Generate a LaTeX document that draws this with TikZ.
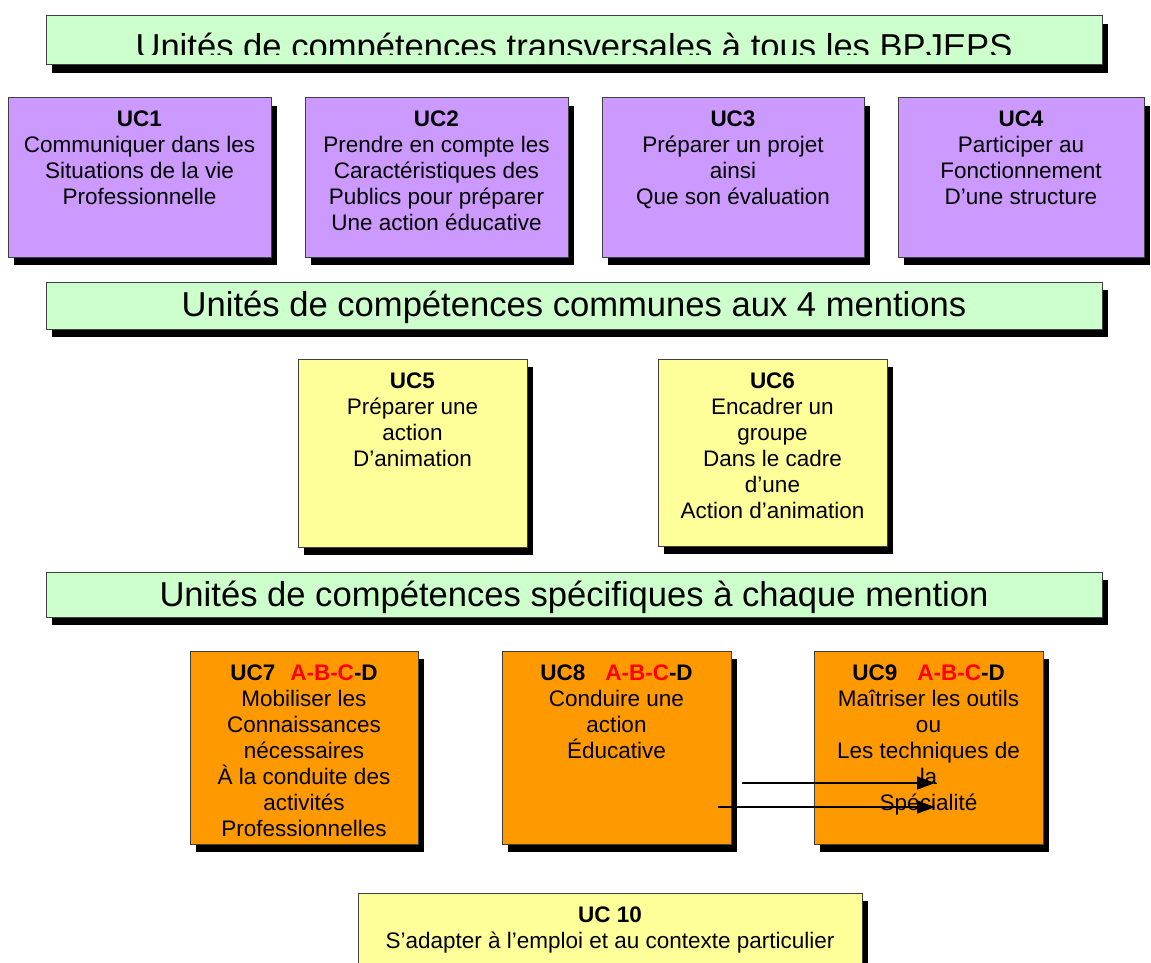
\documentclass[tikz,border=0pt]{standalone}
\usepackage{fontspec}
\setmainfont{Liberation Sans}
\usetikzlibrary{shadows,arrows.meta}

\definecolor{bannergreen}{HTML}{CCFFCC}
\definecolor{ucpurple}{HTML}{CC99FF}
\definecolor{ucyellow}{HTML}{FFFF99}
\definecolor{ucorange}{HTML}{FF9900}
\definecolor{abcred}{HTML}{FF0000}

\newcommand\boxfont{\fontsize{22.5}{26}\selectfont}
\newcommand\bannerfont{\fontsize{34.6}{40}\selectfont}
\newcommand\abcd{\textcolor{abcred}{A-B-C}-D}

\tikzset{
  ucbox/.style={draw=black!75, line width=1pt, inner sep=0pt, outer sep=0pt,
    anchor=north west,
    drop shadow={shadow xshift=6pt, shadow yshift=-8pt, fill=black, opacity=1}},
  conn/.style={line width=1.5pt, -{Triangle[length=18pt,width=13pt]}},
  bannertext/.style={inner sep=0pt, font=\bannerfont},
}

% name, x, y, width, height, colour, text
\newcommand\ucrect[7]{%
  \node[ucbox, fill=#6, minimum width=#4pt, minimum height=#5pt] (#1) at (#2,#3)
    {\parbox[t][#5pt][t]{#4pt}{\centering\boxfont\vspace*{10.8pt}\strut #7}};}

\begin{document}
\begin{tikzpicture}[x=1pt,y=-1pt]
\useasboundingbox (0,0) rectangle (1151,963);
\clip (0,0) rectangle (1151,963);

% top banner (text clipped)
\node[ucbox, fill=bannergreen, minimum width=1056pt, minimum height=49pt] (b1) at (46,16) {};
\begin{scope}
  \clip (46,16) rectangle (1102,55);
  \node[bannertext, anchor=base] (b1t) at (574,59) {Unités de compétences transversales à tous les BPJEPS};
\end{scope}

\ucrect{uc1}{8}{98}{263}{159}{ucpurple}{\textbf{UC1}\\Communiquer dans les\\Situations de la vie\\Professionnelle}
\ucrect{uc2}{305}{98}{263}{159}{ucpurple}{\textbf{UC2}\\Prendre en compte les\\Caractéristiques des\\Publics pour préparer\\Une action éducative}
\ucrect{uc3}{602}{98}{262}{159}{ucpurple}{\textbf{UC3}\\Préparer un projet\\ainsi\\Que son évaluation}
\ucrect{uc4}{898}{98}{246}{159}{ucpurple}{\textbf{UC4}\\Participer au\\Fonctionnement\\D’une structure}

\node[ucbox, fill=bannergreen, minimum width=1056pt, minimum height=47pt] (b2) at (46,282)
  {\parbox[t][47pt][t]{1056pt}{\centering\bannerfont\vspace*{6pt}\strut Unités de compétences communes aux 4 mentions}};

\ucrect{uc5}{298}{359}{229}{188}{ucyellow}{\textbf{UC5}\\Préparer une\\action\\D’animation}
\ucrect{uc6}{658}{359}{229}{187}{ucyellow}{\textbf{UC6}\\Encadrer un\\groupe\\Dans le cadre\\d’une\\Action d’animation}

\node[ucbox, fill=bannergreen, minimum width=1056pt, minimum height=45pt] (b3) at (46,572)
  {\parbox[t][45pt][t]{1056pt}{\centering\bannerfont\vspace*{6pt}\strut Unités de compétences spécifiques à chaque mention}};

\ucrect{uc7}{190}{651}{228}{193}{ucorange}{\textbf{UC7\hspace{15pt}\abcd}\\Mobiliser les\\Connaissances\\nécessaires\\À la conduite des\\activités\\Professionnelles}
\ucrect{uc8}{502}{651}{229}{193}{ucorange}{\textbf{UC8\hspace{20pt}\abcd}\\Conduire une\\action\\Éducative}
\ucrect{uc9}{814}{651}{229}{193}{ucorange}{\textbf{UC9\hspace{20pt}\abcd}\\Maîtriser les outils\\ou\\Les techniques de\\la\\Spécialité}

\ucrect{uc10}{358}{893}{504}{100}{ucyellow}{\textbf{UC 10}\\S’adapter à l’emploi et au contexte particulier}

% arrows
\coordinate (a1s) at (742,783);
\coordinate (a1e) at (935,783);
\coordinate (a2s) at (718,807);
\coordinate (a2e) at (935,807);
\draw[conn] (a1s) -- (a1e);
\draw[conn] (a2s) -- (a2e);
\end{tikzpicture}
\end{document}
